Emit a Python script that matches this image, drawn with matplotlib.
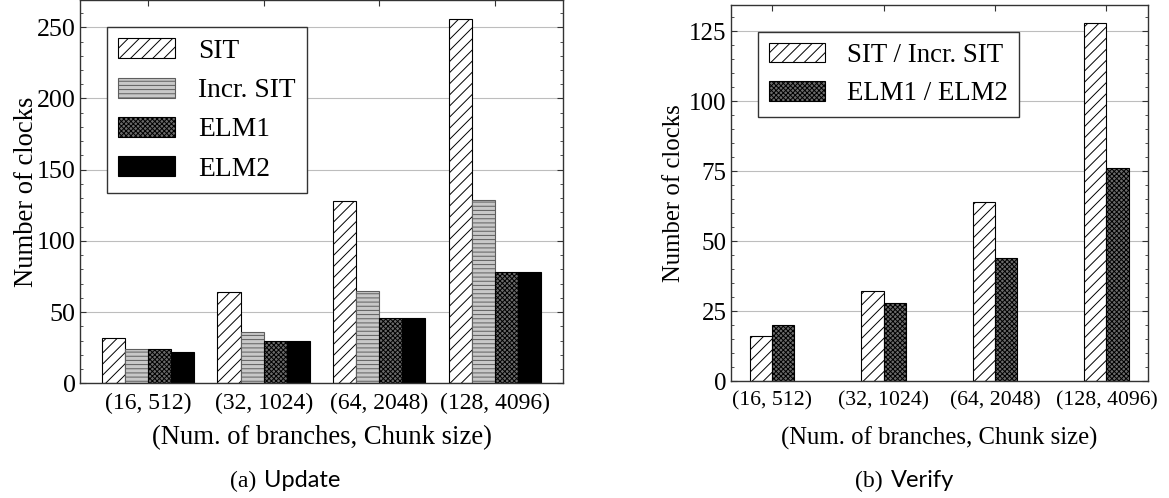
import numpy as np
import matplotlib
matplotlib.use('Agg')
import matplotlib.pyplot as plt
from matplotlib.ticker import AutoMinorLocator, MultipleLocator
from matplotlib.offsetbox import TextArea, HPacker, AnchoredOffsetbox

# data
groups = ['(16, 512)', '(32, 1024)', '(64, 2048)', '(128, 4096)']
update_sit = [32, 64, 128, 256]
update_incr = [24, 36, 65, 129]
update_elm1 = [24, 30, 46, 78]
update_elm2 = [22, 30, 46, 78]
verify_sit = [16, 32, 64, 128]
verify_elm = [20, 28, 44, 76]

plt.rcParams['font.family'] = 'Liberation Serif'
plt.rcParams['hatch.linewidth'] = 0.7

sit_style = dict(facecolor='white', hatch='///', edgecolor='black')
incr_style = dict(facecolor='#c8c8c8', hatch='----', edgecolor='#5e5e5e')
elm1_style = dict(facecolor='#6a6a6a', hatch='xxxxxxx', edgecolor='black')
elm2_style = dict(facecolor='black', edgecolor='black')

fig = plt.figure(figsize=(11.69, 4.98), dpi=100)
ax1 = fig.add_axes([0.0684, 0.2303, 0.4132, 0.7687])
ax2 = fig.add_axes([0.6253, 0.2349, 0.3565, 0.7557])

x = np.arange(len(groups))
w = 0.2

# (a) Update
ax1.bar(x - 1.5*w, update_sit, w, label='SIT', lw=0.8, **sit_style)
ax1.bar(x - 0.5*w, update_incr, w, label='Incr. SIT', lw=0.8, **incr_style)
ax1.bar(x + 0.5*w, update_elm1, w, label='ELM1', lw=0.8, **elm1_style)
ax1.bar(x + 1.5*w, update_elm2, w, label='ELM2', lw=0.8, **elm2_style)

# (b) Verify
ax2.bar(x - 0.5*w, verify_sit, w, label='SIT / Incr. SIT', lw=0.8, **sit_style)
ax2.bar(x + 0.5*w, verify_elm, w, label='ELM1 / ELM2', lw=0.8, **elm1_style)

ax1.yaxis.set_major_locator(MultipleLocator(50))
ax2.yaxis.set_major_locator(MultipleLocator(25))

for ax, xts, yts, lbs in [(ax1, 17, 18.7, 19.2), (ax2, 15.7, 18, 17.8)]:
    ax.set_xticks(x)
    ax.set_xticklabels(groups)
    ax.yaxis.set_minor_locator(AutoMinorLocator(5))
    ax.grid(axis='y', color='#bdbdbd', lw=0.8)
    ax.set_axisbelow(True)
    ax.tick_params(which='both', direction='in', top=True, right=True, color='#333333')
    ax.tick_params(which='major', length=4)
    ax.tick_params(which='minor', length=2)
    ax.tick_params(axis='x', labelsize=xts, pad=7)
    ax.tick_params(axis='y', labelsize=yts, pad=3)
    for s in ax.spines.values():
        s.set_color('#333333')
        s.set_linewidth(1)
    ax.set_ylabel('Number of clocks', fontsize=lbs)
    ax.set_xlabel('(Num. of branches, Chunk size)', fontsize=lbs)

ax1.yaxis.set_label_coords(-0.085, 0.5)
ax1.xaxis.set_label_coords(0.5, -0.11)
ax2.yaxis.set_label_coords(-0.11, 0.5)
ax2.xaxis.set_label_coords(0.5, -0.12)

leg_kw = dict(loc='upper left', borderaxespad=0, fancybox=False, edgecolor='#333333',
              framealpha=1, handlelength=2.07, handleheight=0.73, handletextpad=0.85,
              borderpad=0.4)
l1 = ax1.legend(bbox_to_anchor=(27/483, 1 - 27/383), fontsize=19.8, labelspacing=0.5, **leg_kw)
l2 = ax2.legend(bbox_to_anchor=(27/417, 1 - 27.6/376), fontsize=19.4, labelspacing=0.48, **leg_kw)
for l in (l1, l2):
    l.get_frame().set_linewidth(1)

# sub captions
def caption(tag, name, cx, cy):
    box = HPacker(children=[TextArea(tag, textprops=dict(fontsize=17, family='Liberation Serif')),
                            TextArea(name, textprops=dict(fontsize=17, family='Lato'))],
                  align='baseline', pad=0, sep=6)
    ab = AnchoredOffsetbox(loc='center', child=box, frameon=False, pad=0, borderpad=0,
                           bbox_to_anchor=(cx/1169, 1 - cy/498), bbox_transform=fig.transFigure)
    fig.add_artist(ab)

caption('(a)', 'Update', 285, 481)
caption('(b)', 'Verify', 905, 481)

fig.savefig('out.png', dpi=100)
